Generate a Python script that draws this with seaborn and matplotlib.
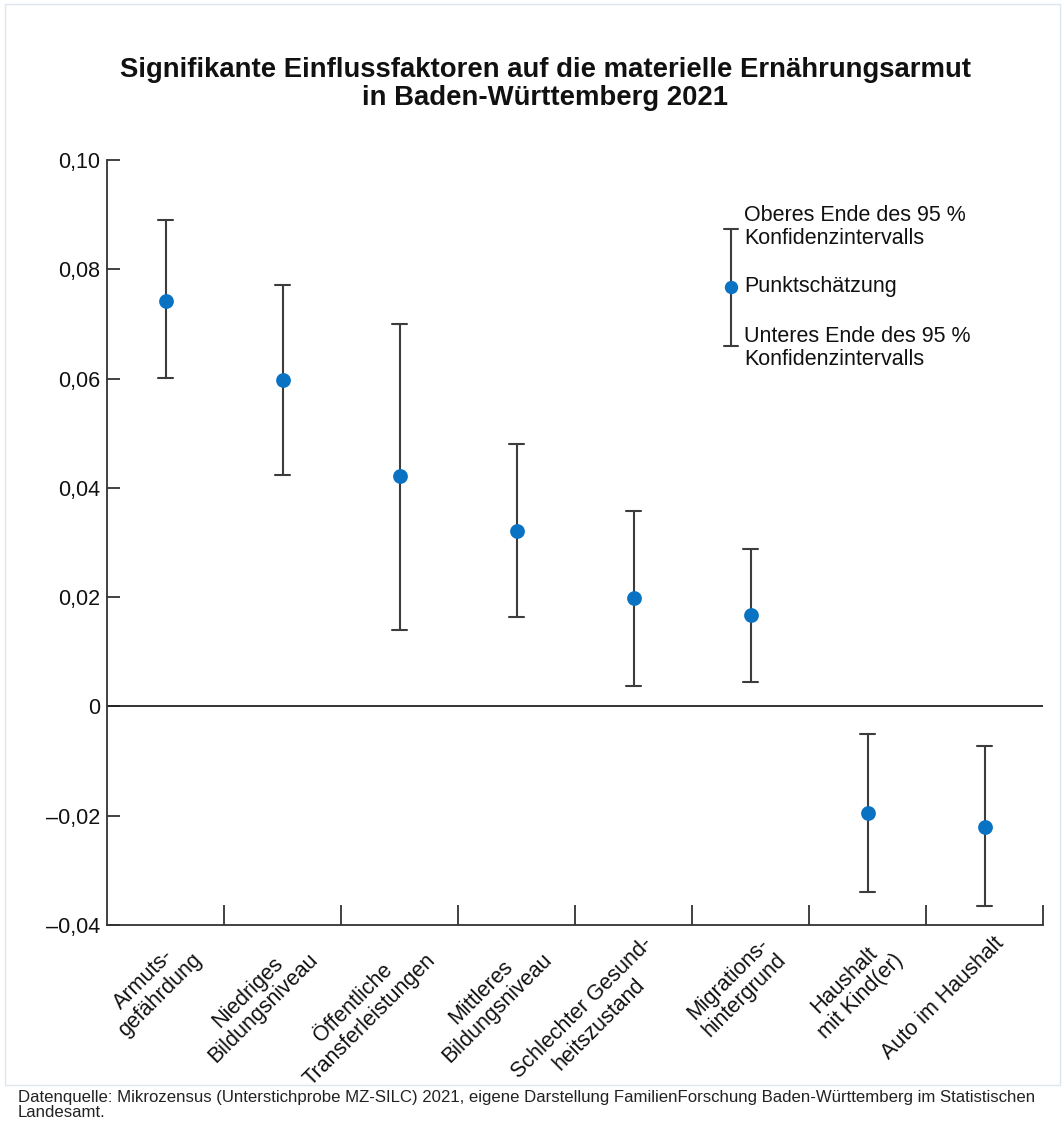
import matplotlib
matplotlib.use("Agg")
import matplotlib.pyplot as plt
import matplotlib.patches as mpatches
import matplotlib.transforms as mtransforms
import seaborn as sns
import pandas as pd
import numpy as np
from matplotlib.ticker import FixedLocator, FuncFormatter

# ---------------- data ----------------
categories = [
    "Armuts-\ngefährdung",
    "Niedriges\nBildungsniveau",
    "Öffentliche\nTransferleistungen",
    "Mittleres\nBildungsniveau",
    "Schlechter Gesund-\nheitszustand",
    "Migrations-\nhintergrund",
    "Haushalt\nmit Kind(er)",
    "Auto im Haushalt",
]
point_estimate = [0.0742, 0.0597, 0.0422, 0.0321, 0.0198, 0.0167, -0.0195, -0.0220]
ci_lower = [0.0601, 0.0424, 0.0140, 0.0164, 0.0037, 0.0045, -0.0340, -0.0365]
ci_upper = [0.0890, 0.0771, 0.0700, 0.0480, 0.0357, 0.0288, -0.0050, -0.0072]
y_ticks = [-0.04, -0.02, 0.0, 0.02, 0.04, 0.06, 0.08, 0.10]

title = ("Signifikante Einflussfaktoren auf die materielle Ernährungsarmut\n"
         "in Baden-Württemberg 2021")
legend_upper = "Oberes Ende des 95 %\nKonfidenzintervalls"
legend_point = "Punktschätzung"
legend_lower = "Unteres Ende des 95 %\nKonfidenzintervalls"
source = ("Datenquelle: Mikrozensus (Unterstichprobe MZ-SILC) 2021, eigene Darstellung "
          "FamilienForschung Baden-Württemberg im Statistischen\nLandesamt.")

# long table: lower / point / upper per category -> median = point, 100% interval = CI
df = pd.DataFrame({
    "Faktor": [c for c in categories for _ in range(3)],
    "Wert": [v for trip in zip(ci_lower, point_estimate, ci_upper) for v in trip],
})

BLUE = "#0a72c2"
GREY = "#3c3c3c"
TXT = "#111111"

sns.set_theme(style="white")
plt.rcParams["font.family"] = ["Liberation Sans", "DejaVu Sans"]

fig = plt.figure(figsize=(10.64, 11.29), dpi=100)
ax = fig.add_axes([107 / 1064, 1 - 925 / 1129, (1043 - 107) / 1064, (925 - 160) / 1129])

sns.pointplot(
    data=df, x="Faktor", y="Wert", order=categories,
    estimator="median", errorbar=("pi", 100),
    linestyle="none", marker="o", markersize=8.6, color=BLUE,
    capsize=0.12,
    err_kws={"color": GREY, "linewidth": 1.5, "zorder": 2},
    zorder=3, ax=ax,
)

ax.set_xlim(-0.5, len(categories) - 0.5)
ax.set_ylim(-0.04, 0.10)
ax.axhline(0, color="#222222", lw=1.3, zorder=1)

# axes styling
for s in ["top", "right"]:
    ax.spines[s].set_visible(False)
for s in ["left", "bottom"]:
    ax.spines[s].set_color("#333333")
    ax.spines[s].set_linewidth(1.3)

ax.yaxis.set_major_locator(FixedLocator(y_ticks))
ax.yaxis.set_major_formatter(FuncFormatter(
    lambda v, p: "0" if abs(v) < 1e-9 else f"{v:.2f}".replace(".", ",").replace("-", "–")))
ax.tick_params(axis="y", direction="in", length=9.4, width=1.3, color="#333333",
               labelsize=15.5, pad=5, left=True, labelcolor=TXT)

ax.set_xticks(range(len(categories)))
ax.set_xticklabels(categories, rotation=45, ha="right", va="top",
                   rotation_mode="anchor", multialignment="center", fontsize=15.5,
                   color=TXT, linespacing=1.12)
ax.tick_params(axis="x", which="major", length=0, pad=6)
shift = mtransforms.ScaledTranslation(9 / 100, 0, fig.dpi_scale_trans)
for lab in ax.get_xticklabels():
    lab.set_transform(lab.get_transform() + shift)
ax.xaxis.set_minor_locator(FixedLocator(np.arange(0.5, len(categories), 1.0)))
ax.tick_params(axis="x", which="minor", direction="in", length=14.4, width=1.3,
               color="#333333", bottom=True)
ax.set_xlabel("")
ax.set_ylabel("")

# legend key (drawn in axes fraction)
lx, ytop, ybot, ypt = 0.6667, 0.910, 0.757, 0.834
cap = 0.0075
ax.plot([lx, lx], [ybot, ytop], transform=ax.transAxes, color=GREY, lw=1.5, zorder=2)
ax.plot([lx - cap, lx + cap], [ytop, ytop], transform=ax.transAxes, color=GREY, lw=1.5)
ax.plot([lx - cap, lx + cap], [ybot, ybot], transform=ax.transAxes, color=GREY, lw=1.5)
ax.plot([lx], [ypt], "o", transform=ax.transAxes, color=BLUE, markersize=8.6, zorder=3)
tx = 0.681
kw = dict(transform=ax.transAxes, fontsize=15.5, va="center", ha="left",
          color=TXT, linespacing=1.12)
ax.text(tx, ytop + 0.003, legend_upper, **kw)
ax.text(tx, ypt, legend_point, **kw)
ax.text(tx, ybot - 0.003, legend_lower, **kw)

# title
fig.text(545 / 1064, 1 - 84 / 1129, title, ha="center", va="center",
         fontsize=19.8, fontweight="bold", linespacing=1.1, color=TXT)

# source
fig.text(18 / 1064, 1 - 1105 / 1129, source, ha="left", va="center",
         fontsize=12.1, linespacing=0.95, color="#222222")

# faint page frame
fig.patches.append(mpatches.Rectangle((5 / 1064, 1 - 1085 / 1129), 1055 / 1064, 1081 / 1129,
                                      transform=fig.transFigure, fill=False,
                                      edgecolor="#dde5ee", lw=1.0))

fig.savefig("out.png", dpi=100)
